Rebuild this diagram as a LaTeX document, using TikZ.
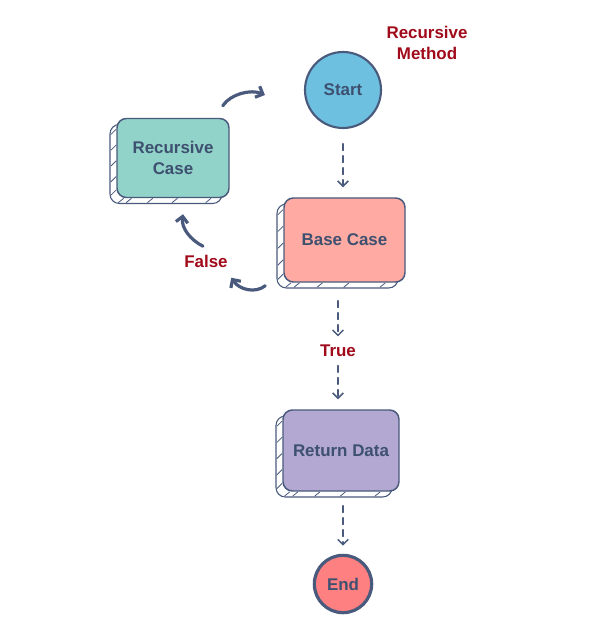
\documentclass[tikz,border=0pt]{standalone}
\usepackage{fontspec}
\setsansfont{Liberation Sans}
\usetikzlibrary{arrows.meta}
\definecolor{inkline}{RGB}{74,90,124}
\definecolor{nodetext}{RGB}{62,80,112}
\definecolor{labelred}{RGB}{160,10,26}
\definecolor{startcol}{RGB}{110,192,224}
\definecolor{reccol}{RGB}{145,211,200}
\definecolor{basecol}{RGB}{255,171,163}
\definecolor{retcol}{RGB}{178,168,210}
\definecolor{endcol}{RGB}{255,128,128}
\begin{document}
\begin{tikzpicture}[x=0.75pt, y=-0.75pt, font=\sffamily\bfseries\fontsize{12.7}{15.5}\selectfont,
    line join=round, line cap=round, >={Straight Barb[length=4pt,width=8pt]},
    procbox/.style={draw=inkline, line width=1.1pt, rounded corners=7pt, text=nodetext, align=center, inner sep=0pt},
    termnode/.style={circle, draw=inkline, text=nodetext, inner sep=0pt},
    flowdash/.style={->, draw=inkline, line width=1.1pt, dash pattern=on 5pt off 4pt},
    loopcurve/.style={-{Straight Barb[length=4.5pt,width=9pt]}, draw=inkline, line width=2.4pt},
    redlabel/.style={text=labelred}]
\useasboundingbox (0,0) rectangle (588,627);

% hatched shadows behind the boxes
\foreach \cx/\cy/\w/\h in {173/158/112/79, 344.5/240/121/84, 341/450.5/116/81}{
    \draw[inkline, line width=0.8pt, rounded corners=7pt, fill=white]
        (\cx-\w/2-7,\cy-\h/2+6) rectangle (\cx+\w/2-7,\cy+\h/2+6);
    \foreach \f in {0.15,0.35,0.55,0.75,0.92}
        \draw[inkline, line width=0.6pt] (\cx-\w/2-6,\cy-\h/2+\f*\h+4) -- (\cx-\w/2-1,\cy-\h/2+\f*\h-1);
    \foreach \f in {0.04,0.11,0.3,0.52,0.82}
        \draw[inkline, line width=0.6pt] (\cx-\w/2+\f*\w-3,\cy+\h/2+5) -- (\cx-\w/2+\f*\w+2,\cy+\h/2+1);
}

\node[termnode, fill=startcol, line width=1.6pt, minimum size=57pt] (start) at (343,90) {Start};
\node[procbox, fill=reccol, minimum width=84pt, minimum height=59.25pt] (reccase) at (173,158) {Recursive\\Case};
\node[procbox, fill=basecol, minimum width=90.75pt, minimum height=63pt] (basecase) at (344.5,240) {Base Case};
\node[procbox, fill=retcol, minimum width=87pt, minimum height=60.75pt] (retdata) at (341,450.5) {Return Data};
\node[termnode, fill=endcol, line width=2.4pt, minimum size=43pt] (finish) at (343,584) {End};

\node[redlabel, align=center] (title) at (427,43) {Recursive\\Method};
\node[redlabel] (truelbl) at (338,351) {True};
\node[redlabel] (falselbl) at (206,261) {False};

\draw[flowdash, shorten <=11pt, shorten >=7.5pt] (start.south) -- (basecase.north -| start);
\draw[flowdash, shorten <=13.5pt, shorten >=3pt] (basecase.south -| truelbl) -- (truelbl);
\draw[flowdash, shorten <=3pt, shorten >=7.5pt] (truelbl) -- (retdata.north -| truelbl);
\draw[flowdash, shorten <=10.5pt, shorten >=6pt] (retdata.south -| finish) -- (finish);

\draw[loopcurve] ([shift={(-7,-12)}]reccase.north east) .. controls +(8,-12) and +(-14,-6) .. ([shift={(-39,5)}]start.west);
\draw[loopcurve] ([shift={(-18,3)}]basecase.south west) .. controls +(-10,8) and +(8,12) .. ([shift={(-52,-5)}]basecase.south west);
\draw[loopcurve] ([shift={(30,48)}]reccase.south) .. controls +(-12,-6) and +(-2,14) .. ([shift={(10,16)}]reccase.south);
\end{tikzpicture}
\end{document}
